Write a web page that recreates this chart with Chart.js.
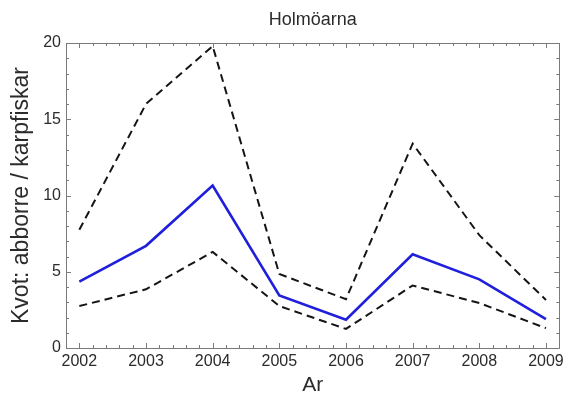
<!DOCTYPE html>
<html>
<head>
<meta charset="utf-8">
<script src="https://cdn.jsdelivr.net/npm/chart.js@4.4.1/dist/chart.umd.min.js"></script>
<style>
  html, body { margin: 0; padding: 0; background: #fff; }
  #wrap { width: 568px; height: 406px; }
</style>
</head>
<body>
<div id="wrap"><canvas id="c" width="568" height="406"></canvas></div>
<script>
// Years and the perch / cyprinid ratio with its lower and upper bounds
const years = [2002, 2003, 2004, 2005, 2006, 2007, 2008, 2009];
const ratio = [4.35, 6.7, 10.65, 3.45, 1.85, 6.15, 4.5, 1.9];
const upper = [7.75, 16.0, 19.8, 4.85, 3.2, 13.4, 7.4, 3.15];
const lower = [2.75, 3.85, 6.3, 2.75, 1.25, 4.1, 2.95, 1.3];
const yTicks = [0, 5, 10, 15, 20];

const pts = arr => years.map((y, i) => ({ x: y, y: arr[i] }));

const FONT = "'Liberation Sans', Arial, Helvetica, sans-serif";
const TXT = '#2b2b2b';
const AXIS = '#7a7a7a';

// Frame with inward major/minor ticks on all four sides
const boxTicks = {
  id: 'boxTicks',
  beforeDatasetsDraw(chart) {
    const { ctx, chartArea: a, scales: { x, y } } = chart;
    ctx.save();
    ctx.strokeStyle = AXIS;
    ctx.lineWidth = 1;
    ctx.beginPath();
    ctx.rect(Math.round(a.left) + 0.5, Math.round(a.top) + 0.5,
             Math.round(a.right - a.left), Math.round(a.bottom - a.top));
    ctx.stroke();
    ctx.beginPath();
    for (let k = Math.round(x.min * 5); k <= Math.round(x.max * 5); k++) {
      const v = k / 5;
      const px = Math.round(x.getPixelForValue(v)) + 0.5;
      const len = (k % 5 === 0) ? 5 : 3;
      ctx.moveTo(px, a.bottom); ctx.lineTo(px, a.bottom - len);
      ctx.moveTo(px, a.top); ctx.lineTo(px, a.top + len);
    }
    for (let v = y.min; v <= y.max; v += 1) {
      const py = Math.round(y.getPixelForValue(v)) + 0.5;
      const len = (v % 5 === 0) ? 5 : 3;
      ctx.moveTo(a.left, py); ctx.lineTo(a.left + len, py);
      ctx.moveTo(a.right, py); ctx.lineTo(a.right - len, py);
    }
    ctx.stroke();
    ctx.restore();
  }
};

const dashed = {
  borderColor: '#151515',
  borderWidth: 2,
  borderDash: [8, 5],
  pointRadius: 0,
  tension: 0,
  fill: false
};

new Chart(document.getElementById('c'), {
  type: 'line',
  data: {
    datasets: [
      Object.assign({ label: 'Övre gräns', data: pts(upper) }, dashed),
      Object.assign({ label: 'Undre gräns', data: pts(lower) }, dashed),
      {
        label: 'Kvot',
        data: pts(ratio),
        borderColor: '#1f1fdc',
        borderWidth: 2.6,
        pointRadius: 0,
        tension: 0,
        fill: false
      }
    ]
  },
  options: {
    responsive: false,
    animation: false,
    devicePixelRatio: 1,
    layout: { padding: { left: 0, right: 7, top: 0, bottom: 0 } },
    plugins: {
      legend: { display: false },
      tooltip: { enabled: false },
      title: {
        display: true,
        fullSize: false,
        text: 'Holmöarna',
        color: TXT,
        font: { family: FONT, size: 18, weight: 'normal' },
        padding: { top: 9, bottom: 12.4 }
      }
    },
    scales: {
      x: {
        type: 'linear',
        min: 2001.8,
        max: 2009.2,
        grid: { display: false, drawTicks: false, tickLength: 0 },
        border: { display: false },
        afterBuildTicks: s => { s.ticks = years.map(v => ({ value: v })); },
        afterFit: s => { s.height = 58; },
        ticks: {
          color: TXT,
          padding: 4,
          maxRotation: 0,
          autoSkip: false,
          font: { family: FONT, size: 16 },
          callback: v => String(v)
        },
        title: {
          display: true,
          text: 'Ar',
          color: TXT,
          font: { family: FONT, size: 21 },
          padding: { top: 0, bottom: 8 }
        }
      },
      y: {
        min: 0,
        max: 20,
        grid: { display: false, drawTicks: false, tickLength: 0 },
        border: { display: false },
        afterBuildTicks: s => { s.ticks = yTicks.map(v => ({ value: v })); },
        afterFit: s => { s.width = 66; },
        ticks: {
          color: TXT,
          padding: 5,
          font: { family: FONT, size: 16 }
        },
        title: {
          display: true,
          text: 'Kvot: abborre / karpfiskar',
          color: TXT,
          font: { family: FONT, size: 23 },
          padding: { top: 8, bottom: 0 }
        }
      }
    }
  },
  plugins: [boxTicks]
});
</script>
</body>
</html>
